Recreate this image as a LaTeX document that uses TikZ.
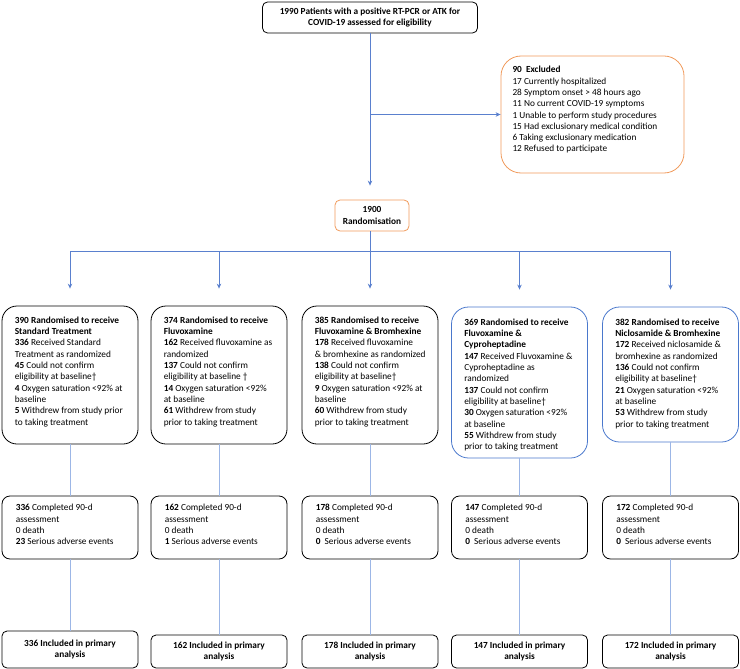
\documentclass[tikz,border=0pt]{standalone}
\usepackage{fontspec}
\setmainfont{Carlito}
\usetikzlibrary{arrows.meta}
\definecolor{arrblue}{HTML}{5A80CE}
\definecolor{lnblue}{HTML}{9CB6E6}
\definecolor{boxorange}{HTML}{F09A5C}
\definecolor{boxblue}{HTML}{4A78CC}
\newcommand{\fsz}{\fontsize{9.3bp}{11.3bp}\selectfont}
\tikzset{
  basebox/.style={draw=black, line width=0.8bp, inner sep=0pt},
  bigbox/.style={basebox, rounded corners=15bp, minimum width=136bp},
  compbox/.style={basebox, rounded corners=8bp, minimum width=136bp, minimum height=63bp},
  inclbox/.style={basebox, rounded corners=5bp, minimum width=136bp, minimum height=33bp, align=center, font=\fsz\bfseries},
  txt/.style={inner sep=0pt, align=left, anchor=north west, font=\fsz},
  arr/.style={draw=arrblue, line width=0.8bp, -{Stealth[length=5bp,width=4.5bp]}},
  arrline/.style={draw=arrblue, line width=0.8bp},
  ln/.style={draw=lnblue, line width=0.8bp},
}
\begin{document}
\begin{tikzpicture}[x=1bp,y=-1bp]
\useasboundingbox (0,0) rectangle (740,669);

% top
\node[basebox, rounded corners=5bp, minimum width=215bp, minimum height=31bp, align=center, font=\fsz\bfseries] (top) at (370,17.5)
  {1990 Patients with a positive RT-PCR or ATK for\\COVID-19 assessed for eligibility};

% excluded
\node[basebox, draw=boxorange, rounded corners=20bp, minimum width=183bp, minimum height=117bp] (excl) at (592.5,114.5) {};
\node[txt] (excltxt) at ([xshift=11.7bp,yshift=-10.5bp]excl.north west)
  {\textbf{90\ \ Excluded}\\
   17 Currently hospitalized\\
   28 Symptom onset > 48 hours ago\\
   11 No current COVID-19 symptoms\\
   1 Unable to perform study procedures\\
   15 Had exclusionary medical condition\\
   6 Taking exclusionary medication\\
   12 Refused to participate};

% randomisation
\node[basebox, draw=boxorange, rounded corners=5bp, minimum width=74bp, minimum height=31bp, align=center, font=\fsz\bfseries] (rand) at (372,215.5)
  {1900\\Randomisation};

% big boxes
\node[bigbox, minimum height=138bp] (B1) at (70,375) {};
\node[bigbox, minimum height=138bp] (B2) at (219,375) {};
\node[bigbox, minimum height=138bp] (B3) at (370,375) {};
\node[bigbox, draw=boxblue, rounded corners=17bp, minimum height=151bp] (B4) at (519.5,382.5) {};
\node[bigbox, draw=boxblue, rounded corners=17bp, minimum height=135bp] (B5) at (670.5,374.5) {};

\node[txt] (B1t) at ([xshift=13bp,yshift=-11bp]B1.north west)
  {\textbf{390 Randomised to receive}\\
   \textbf{Standard Treatment}\\
   \textbf{336} Received Standard\\
   Treatment as randomized\\
   \textbf{45} Could not confirm\\
   eligibility at baseline†\\
   \textbf{4} Oxygen saturation <92\% at\\
   baseline\\
   \textbf{5} Withdrew from study prior\\
   to taking treatment};
\node[txt] (B2t) at ([xshift=13bp,yshift=-11bp]B2.north west)
  {\textbf{374 Randomised to receive}\\
   \textbf{Fluvoxamine}\\
   \textbf{162} Received fluvoxamine as\\
   randomized\\
   \textbf{137} Could not confirm\\
   eligibility at baseline †\\
   \textbf{14} Oxygen saturation <92\%\\
   at baseline\\
   \textbf{61} Withdrew from study\\
   prior to taking treatment};
\node[txt] (B3t) at ([xshift=13bp,yshift=-11bp]B3.north west)
  {\textbf{385 Randomised to receive}\\
   \textbf{Fluvoxamine \& Bromhexine}\\
   \textbf{178} Received fluvoxamine\\
   \& bromhexine as randomized\\
   \textbf{138} Could not confirm\\
   eligibility at baseline†\\
   \textbf{9} Oxygen saturation <92\% at\\
   baseline\\
   \textbf{60} Withdrew from study\\
   prior to taking treatment};
\node[txt] (B4t) at ([xshift=13bp,yshift=-12bp]B4.north west)
  {\textbf{369 Randomised to receive}\\
   \textbf{Fluvoxamine \&}\\
   \textbf{Cyproheptadine}\\
   \textbf{147} Received Fluvoxamine \&\\
   Cyproheptadine as\\
   randomized\\
   \textbf{137} Could not confirm\\
   eligibility at baseline†\\
   \textbf{30} Oxygen saturation <92\%\\
   at baseline\\
   \textbf{55} Withdrew from study\\
   prior to taking treatment};
\node[txt] (B5t) at ([xshift=13bp,yshift=-12bp]B5.north west)
  {\textbf{382 Randomised to receive}\\
   \textbf{Niclosamide \& Bromhexine}\\
   \textbf{172} Received niclosamide \&\\
   bromhexine as randomized\\
   \textbf{136} Could not confirm\\
   eligibility at baseline†\\
   \textbf{21} Oxygen saturation <92\%\\
   at baseline\\
   \textbf{53} Withdrew from study\\
   prior to taking treatment};

% completed boxes
\node[compbox] (C1) at (70,527.5) {};
\node[compbox] (C2) at (219,527.5) {};
\node[compbox] (C3) at (370,527.5) {};
\node[compbox] (C4) at (519.5,527.5) {};
\node[compbox] (C5) at (670.5,527.5) {};
\node[txt] (C1t) at ([xshift=14bp,yshift=-8.5bp]C1.north west)
  {\textbf{336} Completed 90-d\\assessment\\0 death\\\textbf{23} Serious adverse events};
\node[txt] (C2t) at ([xshift=14bp,yshift=-8.5bp]C2.north west)
  {\textbf{162} Completed 90-d\\assessment\\0 death\\\textbf{1} Serious adverse events};
\node[txt] (C3t) at ([xshift=14bp,yshift=-8.5bp]C3.north west)
  {\textbf{178} Completed 90-d\\assessment\\0 death\\\textbf{0}\ \ Serious adverse events};
\node[txt] (C4t) at ([xshift=14bp,yshift=-8.5bp]C4.north west)
  {\textbf{147} Completed 90-d\\assessment\\0 death\\\textbf{0}\ \ Serious adverse events};
\node[txt] (C5t) at ([xshift=14bp,yshift=-8.5bp]C5.north west)
  {\textbf{172} Completed 90-d\\assessment\\0 death\\\textbf{0}\ \ Serious adverse events};

% included boxes
\node[inclbox, minimum height=37bp] (I1) at (70,649.5) {336 Included in primary\\analysis};
\node[inclbox] (I2) at (219,651.5) {162 Included in primary\\analysis};
\node[inclbox] (I3) at (370,651.5) {178 Included in primary\\analysis};
\node[inclbox] (I4) at (519.5,651.5) {147 Included in primary\\analysis};
\node[inclbox] (I5) at (670.5,651.5) {172 Included in primary\\analysis};

% connectors
\coordinate (br) at (370,251);
\draw[arr, shorten >=14bp] (top.south) -- (top.south |- rand.north);
\draw[arr] (top.south |- excl.west) -- (excl.west);
\draw[arrline] (rand.south -| top.south) -- (br);
\draw[arrline] (B1.north |- br) -- (B5.north |- br);
\foreach \b in {B1,B2,B3,B4,B5}
  \draw[arr, shorten >=17bp] (\b.north |- br) -- (\b.north);
\foreach \i in {1,...,5}{
  \draw[ln] (B\i.south) -- (C\i.north);
  \draw[ln] (C\i.south) -- (I\i.north);
}
\end{tikzpicture}
\end{document}
